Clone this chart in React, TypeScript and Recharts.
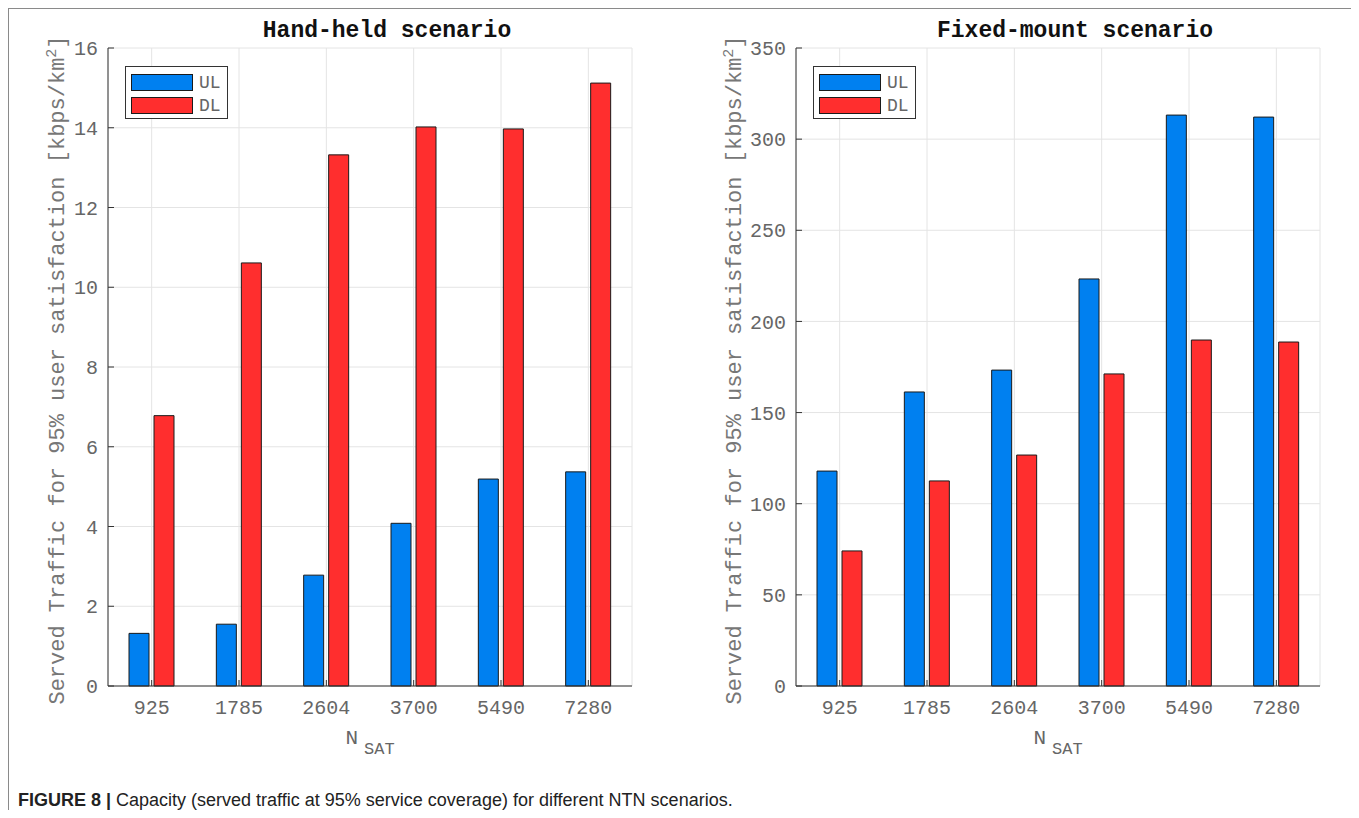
import { BarChart, Bar, XAxis, YAxis, CartesianGrid } from 'recharts';

const categories = ['925', '1785', '2604', '3700', '5490', '7280'];
const handHeldUL = [1.32, 1.55, 2.78, 4.08, 5.19, 5.37];
const handHeldDL = [6.78, 10.61, 13.32, 14.02, 13.97, 15.12];
const fixedMountUL = [117.9, 161.3, 173.3, 223.3, 313.2, 312.1];
const fixedMountDL = [74.1, 112.5, 126.7, 171.2, 189.8, 188.7];
const handHeldTicks = [0, 2, 4, 6, 8, 10, 12, 14, 16];
const fixedMountTicks = [0, 50, 100, 150, 200, 250, 300, 350];
const seriesNames = ['UL', 'DL'];
const seriesColors = ['#0080f0', '#ff2e2e'];

const mono = '"Liberation Mono", "DejaVu Sans Mono", monospace';
const tickStyle = { fontSize: 20, fill: '#666', fontFamily: mono };
const axisColor = '#333';

interface PanelProps {
  title: string;
  ul: number[];
  dl: number[];
  ticks: number[];
  left: number;
}

function Panel({ title, ul, dl, ticks, left }: PanelProps) {
  const data = categories.map((n, i) => ({ n, UL: ul[i], DL: dl[i] }));
  const max = ticks[ticks.length - 1];
  const plotCenter = left + 100 + 262;
  const yLabelX = left + (max > 100 ? 38 : 49);

  return (
    <>
      <div style={{ position: 'absolute', left, top: 0 }}>
        <BarChart
          width={640}
          height={760}
          data={data}
          margin={{ top: 40, right: 16, bottom: 52, left: 40 }}
          barCategoryGap={21}
          barGap={5}
        >
          <CartesianGrid stroke="#e4e4e4" />
          <XAxis
            dataKey="n"
            height={30}
            tick={tickStyle}
            tickSize={-6}
            tickMargin={20}
            stroke={axisColor}
            interval={0}
          />
          <XAxis xAxisId="top" orientation="top" dataKey="n" height={0} tick={false} tickSize={-6} stroke={axisColor} />
          <YAxis
            width={60}
            domain={[0, max]}
            ticks={ticks}
            interval={0}
            tick={tickStyle}
            tickSize={-6}
            tickMargin={16}
            stroke={axisColor}
          />
          <YAxis
            yAxisId="r"
            orientation="right"
            width={0}
            domain={[0, max]}
            ticks={ticks}
            interval={0}
            tick={false}
            tickSize={-6}
            stroke={axisColor}
          />
          <Bar dataKey="UL" fill={seriesColors[0]} stroke="#1a1a1a" strokeWidth={1} barSize={20} isAnimationActive={false} />
          <Bar dataKey="DL" fill={seriesColors[1]} stroke="#1a1a1a" strokeWidth={1} barSize={20} isAnimationActive={false} />
        </BarChart>
      </div>

      {/* title */}
      <div
        style={{
          position: 'absolute',
          left: plotCenter + 17,
          top: 23,
          transform: 'translate(-50%, -50%)',
          fontFamily: mono,
          fontWeight: 'bold',
          fontSize: 23,
          color: '#111',
          whiteSpace: 'nowrap',
        }}
      >
        {title}
      </div>

      {/* y label */}
      <div
        style={{
          position: 'absolute',
          left: yLabelX,
          top: 362,
          transform: 'translate(-50%, -50%) rotate(-90deg)',
          fontFamily: mono,
          fontSize: 22,
          color: '#777',
          whiteSpace: 'nowrap',
          lineHeight: 1,
        }}
      >
        Served Traffic for 95% user satisfaction [kbps/km<sup style={{ fontSize: 15, verticalAlign: 8 }}>2</sup>]
      </div>

      {/* x label */}
      <div
        style={{
          position: 'absolute',
          left: plotCenter,
          top: 730,
          transform: 'translate(-50%, -50%)',
          fontFamily: mono,
          color: '#666',
          whiteSpace: 'nowrap',
          lineHeight: 1,
        }}
      >
        <span style={{ fontSize: 21 }}>N</span>
        <span style={{ fontSize: 17, position: 'relative', top: 10, marginLeft: 6 }}>SAT</span>
      </div>

      {/* legend */}
      <div
        style={{
          position: 'absolute',
          left: left + 117,
          top: 58,
          width: 103,
          height: 53,
          boxSizing: 'border-box',
          border: '1px solid #333',
          background: '#fff',
          padding: '4px 5px',
        }}
      >
        {seriesNames.map((name, i) => (
          <div key={name} style={{ display: 'flex', alignItems: 'center', height: 23 }}>
            <div
              style={{
                width: 62,
                height: 17,
                background: seriesColors[i],
                border: '1px solid #1a1a1a',
                boxSizing: 'border-box',
              }}
            />
            <span style={{ marginLeft: 6, fontFamily: mono, fontSize: 18, color: '#666' }}>{name}</span>
          </div>
        ))}
      </div>
    </>
  );
}

export default function App() {
  return (
    <div style={{ position: 'relative', width: 1346, height: 802, overflow: 'hidden', background: '#fff' }}>
      <div
        style={{
          position: 'absolute',
          left: 0,
          top: 0,
          width: 1346,
          height: 820,
          boxSizing: 'border-box',
          border: '1px solid #8a8a8a',
        }}
      />
      <Panel title="Hand-held scenario" ul={handHeldUL} dl={handHeldDL} ticks={handHeldTicks} left={0} />
      <Panel title="Fixed-mount scenario" ul={fixedMountUL} dl={fixedMountDL} ticks={fixedMountTicks} left={688} />
      <div
        style={{
          position: 'absolute',
          left: 10,
          top: 783,
          fontFamily: '"Liberation Sans", Arial, sans-serif',
          fontSize: 18,
          lineHeight: 1,
          color: '#222',
          whiteSpace: 'nowrap',
        }}
      >
        <b>FIGURE 8 |</b> Capacity (served traffic at 95% service coverage) for different NTN scenarios.
      </div>
    </div>
  );
}
